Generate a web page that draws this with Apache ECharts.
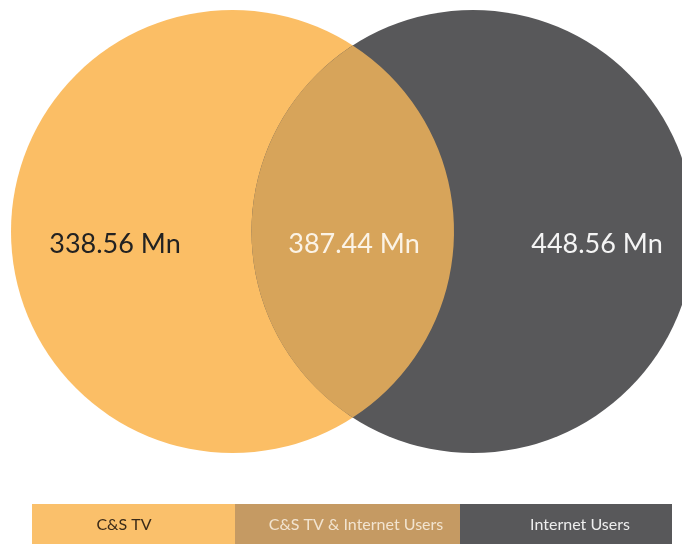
<!DOCTYPE html>
<html>
<head>
<meta charset="utf-8">
<script src="https://cdn.jsdelivr.net/npm/echarts@6/dist/echarts.min.js"></script>
<style>
  html, body { margin: 0; padding: 0; background: #ffffff; }
  #chart { width: 682px; height: 544px; }
</style>
</head>
<body>
<div id="chart"></div>
<script>
// Audience overlap: cable & satellite TV vs internet users (millions)
const categories = ['C&S TV', 'C&S TV & Internet Users', 'Internet Users'];
const values = [338.56, 387.44, 448.56];
const unit = 'Mn';

// Visual styling
const fillColors = ['#FBBE65', '#D7A45A', '#58585A'];
const legendColors = ['#FAC06B', '#C59A63', '#58585A'];
const labelColors = ['#222222', '#FBF3E6', '#F4F4F4'];
const legendTextColors = ['#3A2A18', '#F2E4D0', '#EEEEEE'];

// Layout in plot units (1 unit = 1 px on the 682 x 544 canvas)
const R = 221.5;
const centers = [[232.5, 231.5], [473, 231.5]];
const labelPos = [[115, 244], [354, 244], [597, 244]];
const legendBox = { top: 504, bottom: 544, edges: [32, 235, 460, 672] };
const legendTextX = [124, 356, 580];

const chart = echarts.init(document.getElementById('chart'), null, { renderer: 'canvas' });

// Region items: 0 = left circle, 2 = right circle, 1 = lens (drawn last)
const regionData = [
  { value: [0, values[0]] },
  { value: [2, values[2]] },
  { value: [1, values[1]] }
];

function renderRegion(params, api) {
  const idx = api.value(0);
  const r = api.size([R, 0])[0];
  if (idx === 0 || idx === 2) {
    const c = api.coord(centers[idx === 0 ? 0 : 1]);
    return {
      type: 'circle',
      shape: { cx: c[0], cy: c[1], r: r },
      style: { fill: fillColors[idx] }
    };
  }
  // Lens shaped intersection of the two equal circles
  const a = api.coord(centers[0]);
  const b = api.coord(centers[1]);
  const xm = (a[0] + b[0]) / 2;
  const half = (b[0] - a[0]) / 2;
  const h = Math.sqrt(r * r - half * half);
  const yc = a[1];
  const d = 'M' + xm + ',' + (yc - h) +
            ' A' + r + ',' + r + ' 0 0 0 ' + xm + ',' + (yc + h) +
            ' A' + r + ',' + r + ' 0 0 0 ' + xm + ',' + (yc - h) + ' Z';
  return {
    type: 'path',
    shape: { pathData: d },
    style: { fill: fillColors[1] }
  };
}

const labelData = values.map(function (v, i) {
  return { value: [labelPos[i][0], labelPos[i][1]], amount: v, idx: i };
});

function renderLabel(params, api) {
  const i = params.dataIndex;
  const p = api.coord([api.value(0), api.value(1)]);
  return {
    type: 'text',
    x: p[0],
    y: p[1],
    style: {
      text: values[i].toFixed(2) + ' ' + unit,
      fill: labelColors[i],
      font: '27px Lato, "Open Sans", sans-serif',
      align: 'center',
      verticalAlign: 'middle'
    }
  };
}

// Legend strip built from the category list
const legendGraphics = [];
categories.forEach(function (name, i) {
  const x0 = legendBox.edges[i];
  const x1 = legendBox.edges[i + 1];
  legendGraphics.push({
    type: 'rect',
    shape: { x: x0, y: legendBox.top, width: x1 - x0, height: legendBox.bottom - legendBox.top },
    style: { fill: legendColors[i] },
    silent: true
  });
  legendGraphics.push({
    type: 'text',
    x: legendTextX[i],
    y: (legendBox.top + legendBox.bottom) / 2 + 1,
    style: {
      text: name,
      fill: legendTextColors[i],
      font: '16px Lato, "Open Sans", sans-serif',
      align: 'center',
      verticalAlign: 'middle'
    },
    silent: true
  });
});

chart.setOption({
  animation: false,
  backgroundColor: '#ffffff',
  grid: { left: 0, right: 0, top: 0, bottom: 0 },
  xAxis: { type: 'value', min: 0, max: 682, show: false },
  yAxis: { type: 'value', min: 0, max: 544, inverse: true, show: false },
  series: [
    {
      type: 'custom',
      name: 'regions',
      clip: false,
      data: regionData,
      renderItem: renderRegion,
      encode: { x: -1, y: -1 }
    },
    {
      type: 'custom',
      name: 'labels',
      clip: false,
      data: labelData,
      renderItem: renderLabel,
      z: 5
    }
  ],
  graphic: legendGraphics
});
</script>
</body>
</html>
